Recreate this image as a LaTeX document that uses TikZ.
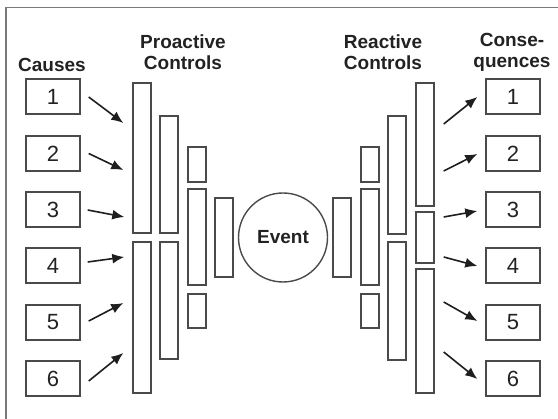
\documentclass[tikz,border=0pt]{standalone}
\usepackage{fontspec}
\setmainfont{Liberation Sans}
\usetikzlibrary{arrows.meta,fit,calc}
\definecolor{boxline}{HTML}{4A4A4A}
\definecolor{arrcol}{HTML}{1E1E1E}
\definecolor{txt}{HTML}{222222}
\definecolor{framecol}{HTML}{7A7A7A}
\tikzset{
  numbox/.style={draw=boxline, line width=1.4pt, minimum width=54pt, minimum height=35pt, inner sep=0pt,
    font=\fontsize{22}{24}\selectfont, text=txt},
  bar/.style={draw=boxline, line width=1.4pt, inner sep=0pt, rectangle},
  heading/.style={font=\fontsize{19}{21}\selectfont\bfseries, text=txt, align=center, inner sep=0pt},
  arr/.style={draw=arrcol, line width=1.6pt, -{Latex[length=12pt,width=10pt]}},
}
\begin{document}
\begin{tikzpicture}[x=1pt,y=-1pt]
\useasboundingbox (0,0) rectangle (558,419);
\begin{scope}
\clip (0,0) rectangle (558,419);
\draw[framecol, line width=1.6pt] (6,7.5) rectangle (566,430);
\end{scope}

% headings
\node[heading] (hcauses) at (52,65) {Causes};
\node[heading] (hpro) at (183,52.5) {Proactive\\Controls};
\node[heading] (hre) at (383,52.5) {Reactive\\Controls};
\node[heading] (hcons) at (512,52.5) {Conse-\\quences};

% cause and consequence boxes
\foreach \i/\y in {1/96.5,2/153.5,3/209.5,4/265.5,5/322.5,6/378.5}{
  \node[numbox] (c\i) at (53,\y) {\i};
  \node[numbox] (q\i) at (513,\y) {\i};
}

% proactive bars
\node[bar, fit={(133,83) (151,233)}] (A1) {};
\node[bar, fit={(133,242) (151,393)}] (A2) {};
\node[bar, fit={(160,116) (178,233)}] (B1) {};
\node[bar, fit={(160,242) (178,359)}] (B2) {};
\node[bar, fit={(188,147) (206,182)}] (C1) {};
\node[bar, fit={(188,189) (206,285)}] (C2) {};
\node[bar, fit={(188,294) (206,328)}] (C3) {};
\node[bar, fit={(215,198) (233,277)}] (D) {};

% event
\node[draw=boxline, line width=1.4pt, circle, minimum size=89pt, inner sep=0pt,
  font=\fontsize{19}{21}\selectfont\bfseries, text=txt] (ev) at (283,237.5) {Event};

% reactive bars
\node[bar, fit={(333,198) (351,277)}] (RD) {};
\node[bar, fit={(361,147) (379,182)}] (RC1) {};
\node[bar, fit={(361,189) (379,285)}] (RC2) {};
\node[bar, fit={(361,294) (379,328)}] (RC3) {};
\node[bar, fit={(388,116) (406,234)}] (RB1) {};
\node[bar, fit={(388,242) (406,360)}] (RB2) {};
\node[bar, fit={(416,83) (434,206)}] (RA1) {};
\node[bar, fit={(416,212) (434,263)}] (RA2) {};
\node[bar, fit={(416,269) (434,393)}] (RA3) {};

% left arrows
\draw[arr] ($(c1.east)+(8,0.5)$) -- ($(A1.west |- 0,123)+(-9,0)$);
\draw[arr] ($(c2.east)+(8,0)$) -- ($(A1.west |- 0,170)+(-9,0)$);
\draw[arr] ($(c3.east)+(7,0.5)$) -- ($(A1.west |- 0,217)+(-8,0)$);
\draw[arr] ($(c4.east)+(7,-3.5)$) -- ($(A2.west |- 0,257)+(-8,0)$);
\draw[arr] ($(c5.east)+(8,-1.5)$) -- ($(A2.west |- 0,303)+(-9,0)$);
\draw[arr] ($(c6.east)+(8,2.5)$) -- ($(A2.west |- 0,353)+(-9,0)$);

% right arrows
\draw[arr] ($(RA1.east |- 0,124)+(9,0)$) -- ($(q1.west)+(-8,0.5)$);
\draw[arr] ($(RA1.east |- 0,171)+(9,0)$) -- ($(q2.west)+(-8,0.5)$);
\draw[arr] ($(RA2.east |- 0,217)+(9,0)$) -- ($(q3.west)+(-8,1.5)$);
\draw[arr] ($(RA2.east |- 0,257)+(9,0)$) -- ($(q4.west)+(-8,0.5)$);
\draw[arr] ($(RA3.east |- 0,302)+(9,0)$) -- ($(q5.west)+(-8,-1.5)$);
\draw[arr] ($(RA3.east |- 0,352)+(9,0)$) -- ($(q6.west)+(-8,0.5)$);
\end{tikzpicture}
\end{document}
